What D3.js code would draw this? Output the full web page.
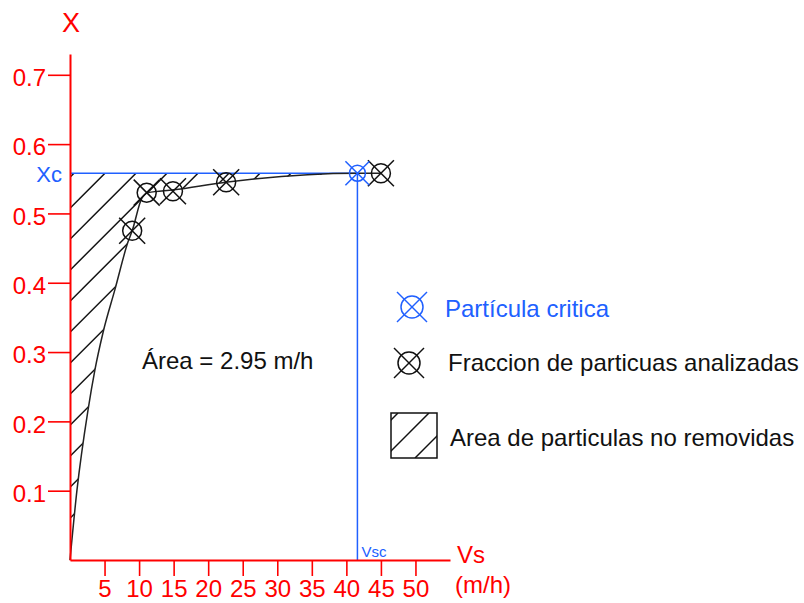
<!DOCTYPE html>
<html>
<head>
<meta charset="utf-8">
<title>Curva de sedimentacion</title>
<script src="https://d3js.org/d3.v7.min.js" charset="utf-8"></script>
<style>
body { margin: 0; background: #fff; }
text { font-family: "Liberation Sans", Arial, sans-serif; }
</style>
</head>
<body>
<script>
// curva X vs Vs
var curveVs = [0, 1.0, 2.6, 3.6, 4.8, 6.5, 8.4, 9.0, 10.4, 11.3, 15.0, 22.5, 41.6, 45.0];
var curveX  = [0, 0.100, 0.216, 0.274, 0.329, 0.390, 0.459, 0.475, 0.522, 0.530, 0.534, 0.545, 0.558, 0.558];

// fracciones analizadas
var sampleVs = [9.0, 11.1, 14.9, 22.6, 45.0];
var sampleX  = [0.475, 0.530, 0.532, 0.545, 0.558];

// particula critica
var criticalVs = 41.6;
var criticalX = 0.558;

var xTicks = [5, 10, 15, 20, 25, 30, 35, 40, 45, 50];
var yTicks = [0.1, 0.2, 0.3, 0.4, 0.5, 0.6, 0.7];
var areaLabel = "Área = 2.95 m/h";
var legendLabels = ["Partícula critica", "Fraccion de particuas analizadas", "Area de particulas no removidas"];

var red = "#ff0000";
var blue = "#2060ff";

var svg = d3.select("body").append("svg")
    .attr("width", 804)
    .attr("height", 603);

var xScale = d3.scaleLinear().domain([0, 55]).range([70, 450]);
var yScale = d3.scaleLinear().domain([0, 0.73]).range([560, 54]);

var curvePts = curveVs.map(function(v, i) { return [v, curveX[i]]; });

var line = d3.line()
    .x(function(d) { return xScale(d[0]); })
    .y(function(d) { return yScale(d[1]); })
    .curve(d3.curveMonotoneX);

// area sombreada (entre eje, Xc y la curva)
var hatchPts = curvePts.filter(function(d) { return d[0] <= criticalVs; });
var areaPath = line(hatchPts) + "L" + xScale(0) + "," + yScale(criticalX) + "Z";

var defs = svg.append("defs");
defs.append("clipPath").attr("id", "clipArea")
    .append("path").attr("d", areaPath);
defs.append("clipPath").attr("id", "clipBox")
    .append("rect").attr("x", 391).attr("y", 413).attr("width", 46).attr("height", 45);

function hatch(g, x0, y0, x1, y1, offset, step) {
    for (var c = x0 + y0 + offset; c < x1 + y1; c += step) {
        g.append("line")
            .attr("x1", c - y1).attr("y1", y1)
            .attr("x2", c - y0).attr("y2", y0)
            .attr("stroke", "#111")
            .attr("stroke-width", 1.5);
    }
}

var hatchG = svg.append("g").attr("clip-path", "url(#clipArea)");
hatch(hatchG, xScale(0), yScale(criticalX), xScale(criticalVs), yScale(0), 4, 31);

// lineas de la particula critica
svg.append("line")
    .attr("x1", xScale(0)).attr("x2", xScale(criticalVs))
    .attr("y1", yScale(criticalX)).attr("y2", yScale(criticalX))
    .attr("stroke", blue).attr("stroke-width", 1.5);
svg.append("line")
    .attr("x1", xScale(criticalVs)).attr("x2", xScale(criticalVs))
    .attr("y1", yScale(criticalX)).attr("y2", yScale(0))
    .attr("stroke", blue).attr("stroke-width", 1.5);

// curva
svg.append("path")
    .datum(curvePts)
    .attr("d", line)
    .attr("fill", "none")
    .attr("stroke", "#222")
    .attr("stroke-width", 1.5);

// ejes
var yAxis = svg.append("g")
    .attr("transform", "translate(" + xScale(0) + ",0)")
    .call(d3.axisLeft(yScale).tickValues(yTicks).tickSize(22).tickSizeOuter(0)
        .tickPadding(2).tickFormat(d3.format(".1f")));

var xAxis = svg.append("g")
    .attr("transform", "translate(0," + yScale(0) + ")")
    .call(d3.axisBottom(xScale).tickValues(xTicks).tickSize(16).tickSizeOuter(0).tickPadding(4));

[xAxis, yAxis].forEach(function(ax) {
    ax.select(".domain").attr("stroke", red).attr("stroke-width", 2);
    ax.selectAll(".tick line").attr("stroke", red).attr("stroke-width", 1.6);
    ax.selectAll(".tick text")
        .attr("fill", red)
        .style("font-size", "24px")
        .style("font-family", "'Liberation Sans', Arial, sans-serif");
});
yAxis.selectAll(".tick text").attr("dy", "0.45em");

function marker(g, cx, cy, r, arm, color) {
    g.append("circle")
        .attr("cx", cx).attr("cy", cy).attr("r", r)
        .attr("fill", "none").attr("stroke", color).attr("stroke-width", 1.5);
    g.append("line")
        .attr("x1", cx - arm).attr("y1", cy - arm).attr("x2", cx + arm).attr("y2", cy + arm)
        .attr("stroke", color).attr("stroke-width", 1.5);
    g.append("line")
        .attr("x1", cx - arm).attr("y1", cy + arm).attr("x2", cx + arm).attr("y2", cy - arm)
        .attr("stroke", color).attr("stroke-width", 1.5);
}

var markG = svg.append("g");
sampleVs.forEach(function(v, i) {
    marker(markG, xScale(v), yScale(sampleX[i]), 9.5, 13, "#111");
});
marker(markG, xScale(criticalVs), yScale(criticalX), 8, 12, blue);

// textos
svg.append("text").attr("x", 71).attr("y", 32).attr("text-anchor", "middle")
    .attr("fill", red).style("font-size", "27px").text("X");
svg.append("text").attr("x", 62).attr("y", 182).attr("text-anchor", "end")
    .attr("fill", blue).style("font-size", "22px").text("Xc");
svg.append("text").attr("x", 457).attr("y", 563)
    .attr("fill", red).style("font-size", "24px").text("Vs");
svg.append("text").attr("x", 455).attr("y", 593)
    .attr("fill", red).style("font-size", "24px").text("(m/h)");
svg.append("text").attr("x", xScale(criticalVs) + 4).attr("y", 557)
    .attr("fill", blue).style("font-size", "15px").text("Vsc");
svg.append("text").attr("x", 142).attr("y", 369)
    .attr("fill", "#111").style("font-size", "24px").text(areaLabel);

// leyenda
var leg = svg.append("g");
marker(leg, 412, 307, 11, 15, blue);
marker(leg, 409, 363, 11, 15, "#111");
leg.append("rect").attr("x", 391).attr("y", 413).attr("width", 46).attr("height", 45)
    .attr("fill", "none").attr("stroke", "#111").attr("stroke-width", 1.5);
var boxG = leg.append("g").attr("clip-path", "url(#clipBox)");
hatch(boxG, 391, 413, 437, 458, 7, 31);

leg.append("text").attr("x", 445).attr("y", 317)
    .attr("fill", blue).style("font-size", "24px").text(legendLabels[0]);
leg.append("text").attr("x", 448).attr("y", 371)
    .attr("fill", "#111").style("font-size", "24px").text(legendLabels[1]);
leg.append("text").attr("x", 450).attr("y", 446)
    .attr("fill", "#111").style("font-size", "24px").text(legendLabels[2]);
</script>
</body>
</html>
